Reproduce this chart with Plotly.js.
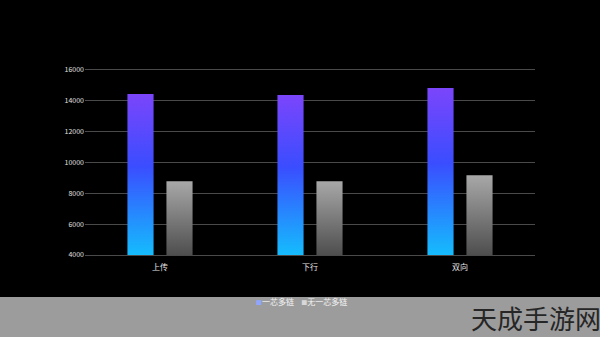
<!DOCTYPE html>
<html>
<head>
<meta charset="utf-8">
<script src="https://cdn.plot.ly/plotly-3.0.1.min.js"></script>
<style>
  html, body { margin: 0; padding: 0; background: #000; }
  #chart { width: 600px; height: 337px; }
</style>
</head>
<body>
<div id="chart"></div>
<script>
// Throughput comparison: with vs without the "一芯多链" design
const categories = ['上传', '下行', '双向'];
const seriesNames = ['一芯多链', '无一芯多链'];
const withChain = [14450, 14380, 14830];
const withoutChain = [8780, 8790, 9180];
const yTicks = [4000, 6000, 8000, 10000, 12000, 14000, 16000];

const FONT = '"Noto Sans CJK SC", "Noto Sans", sans-serif';
const PLOT_H = 185; // plot-area height in px, used for paper offsets

const traces = [
  {
    type: 'bar', name: seriesNames[0], x: categories, y: withChain,
    marker: { color: '#3d55ff', line: { width: 0 } }, hoverinfo: 'x+y'
  },
  {
    type: 'bar', name: seriesNames[1], x: categories, y: withoutChain,
    marker: { color: '#888888', line: { width: 0 } }, hoverinfo: 'x+y'
  }
];

const layout = {
  width: 600, height: 337,
  paper_bgcolor: '#000', plot_bgcolor: '#000',
  margin: { l: 85, r: 65, t: 70, b: 82 },
  barmode: 'group', bargap: 0.48, bargroupgap: 0.33,
  showlegend: false,
  font: { family: FONT, color: '#e0e0e0', size: 7 },
  xaxis: {
    type: 'category', showgrid: false, zeroline: false,
    showline: true, mirror: true, linecolor: '#4a4a4a', linewidth: 1,
    ticks: '', tickfont: { size: 8, color: '#e6e6e6' }, ticklabelstandoff: 4
  },
  yaxis: {
    range: [4000, 16000], tickvals: yTicks, ticktext: yTicks.map(String),
    showgrid: true, gridcolor: '#4a4a4a', gridwidth: 1, zeroline: false,
    showline: false, ticks: '', tickfont: { size: 7, color: '#e0e0e0' }
  },
  shapes: [
    // grey strip along the bottom that holds the legend
    { type: 'rect', xref: 'paper', yref: 'paper', layer: 'below',
      x0: -0.2, x1: 1.2, y0: -82 / PLOT_H, y1: -42 / PLOT_H,
      fillcolor: '#9c9c9c', line: { width: 0 } }
  ],
  annotations: [
    { xref: 'paper', yref: 'paper', x: 0.481, y: -46 / PLOT_H, xanchor: 'center', yanchor: 'middle',
      showarrow: false, font: { size: 8, color: '#f2f2f2', family: FONT },
      text: '<span style="color:#8ea6ff;font-size:6px">■</span>' + seriesNames[0] +
            '    <span style="color:#d8d8d8;font-size:6px">■</span>' + seriesNames[1] },
    { xref: 'paper', yref: 'paper', x: 0.853, y: -62 / PLOT_H, xanchor: 'left', yanchor: 'middle',
      showarrow: false, font: { size: 26, color: '#262626', family: FONT },
      text: '天成手游网' }
  ]
};

// Colour stops for each series, top of bar to bottom of the visible plot
const GRADIENT_STOPS = [
  [['0%', '#7b45fb'], ['45%', '#3a4dff'], ['100%', '#15bcfd']],
  [['0%', '#a8a8a8'], ['100%', '#4e4e4e']]
];

// Bars start at value 0, below the visible range, so each bar gets its own
// gradient spanning from its top down to the bottom edge of the plot area.
function applyGradients(gd) {
  const svg = gd.querySelector('.main-svg');
  if (!svg) return;
  const NS = 'http://www.w3.org/2000/svg';
  let defs = svg.querySelector('defs');
  if (!defs) { defs = document.createElementNS(NS, 'defs'); svg.insertBefore(defs, svg.firstChild); }
  defs.querySelectorAll('.bar-grad').forEach(g => g.remove());
  const bottom = gd._fullLayout.yaxis._length;
  const groups = gd.querySelectorAll('.barlayer .trace');
  groups.forEach((t, i) => {
    t.querySelectorAll('path').forEach((p, j) => {
      const top = p.getBBox().y;
      const id = 'bar-grad-' + i + '-' + j;
      const g = document.createElementNS(NS, 'linearGradient');
      g.setAttribute('id', id);
      g.setAttribute('class', 'bar-grad');
      g.setAttribute('gradientUnits', 'userSpaceOnUse');
      g.setAttribute('x1', '0'); g.setAttribute('y1', String(top));
      g.setAttribute('x2', '0'); g.setAttribute('y2', String(bottom));
      GRADIENT_STOPS[i].forEach(([off, col]) => {
        const s = document.createElementNS(NS, 'stop');
        s.setAttribute('offset', off); s.setAttribute('stop-color', col);
        g.appendChild(s);
      });
      defs.appendChild(g);
      p.style.fill = 'url(#' + id + ')';
      p.style.fillOpacity = 1;
    });
  });
}

const gd = document.getElementById('chart');
Plotly.newPlot(gd, traces, layout, { displayModeBar: false, staticPlot: true }).then(() => {
  applyGradients(gd);
  gd.on('plotly_afterplot', () => applyGradients(gd));
});
</script>
</body>
</html>
